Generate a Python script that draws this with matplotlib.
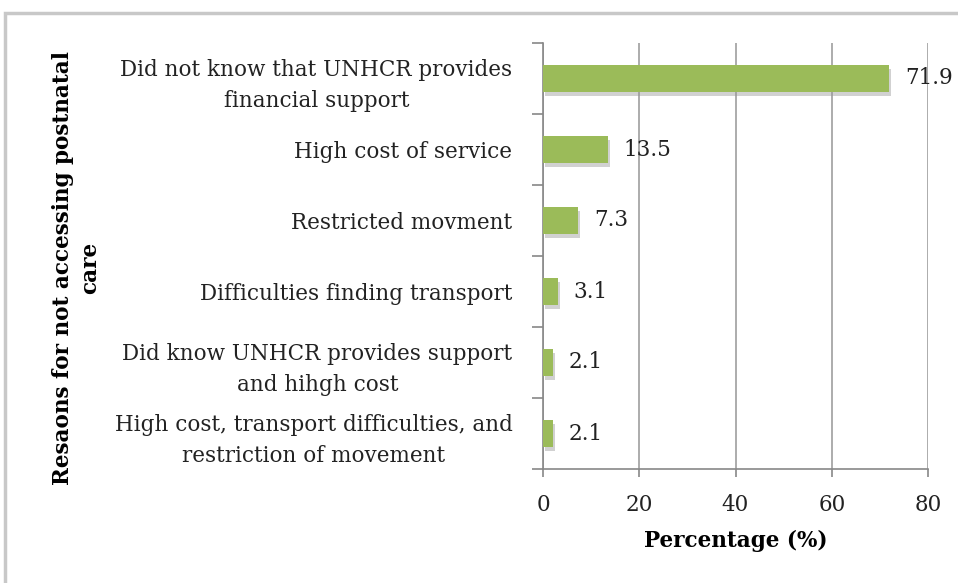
import numpy as np
import matplotlib
matplotlib.use("Agg")
import matplotlib.pyplot as plt
import matplotlib.patheffects as pe
from matplotlib.patches import Rectangle

reasons = [
    "Did not know that UNHCR provides\nfinancial support",
    "High cost of service",
    "Restricted movment",
    "Difficulties finding transport",
    "Did know UNHCR provides support\nand hihgh cost",
    "High cost, transport difficulties, and\nrestriction of movement",
]
percent = [71.9, 13.5, 7.3, 3.1, 2.1, 2.1]
x_ticks = [0, 20, 40, 60, 80]

plt.rcParams['font.family'] = ['DejaVu Serif']

fig = plt.figure(figsize=(9.58, 5.83), dpi=100)
ax = fig.add_axes([543/958, 1-469/583, 385/958, 426/583])

# outer frame (cut off on right and bottom like the screenshot)
fig.patches.append(Rectangle((5/958, -0.1), 1.1, 1-13/583+0.1, transform=fig.transFigure,
                             fill=False, edgecolor='#c8c8c8', linewidth=2.5))

y = np.arange(len(reasons))
bars = ax.barh(y, percent, height=0.38, color='#9bbb59', zorder=3,
               path_effects=[pe.SimplePatchShadow(offset=(1.5, -3), shadow_rgbFace='#9a9a9a', alpha=0.45),
                             pe.Normal()])
for yi, v in zip(y, percent):
    ax.text(v + 3.3, yi, f"{v}", va='center', ha='left', fontsize=15.5, color='#222222', zorder=4)

ax.set_xlim(0, 80)
ax.set_ylim(len(reasons) - 0.5, -0.5)
ax.set_xticks(x_ticks)
ax.set_xticklabels([str(t) for t in x_ticks], fontsize=15.5, color='#222222')
ax.set_yticks(y)
ax.set_yticklabels(reasons, fontsize=15.5, color='#222222', linespacing=1.55)
for lbl in ax.get_yticklabels():
    lbl.set_multialignment('center')
ax.set_yticks(np.arange(-0.5, len(reasons)), minor=True)
ax.tick_params(axis='y', which='major', length=0, pad=22)
ax.tick_params(axis='y', which='minor', length=8, color='#888888', width=1.2)
ax.tick_params(axis='x', length=6, color='#888888', width=1.2, pad=12)

ax.grid(axis='x', color='#a6a6a6', linewidth=1.3, zorder=0)
for s in ['top', 'right']:
    ax.spines[s].set_visible(False)
for s in ['left', 'bottom']:
    ax.spines[s].set_color('#888888')
    ax.spines[s].set_linewidth(1.2)

ax.set_xlabel("Percentage (%)", fontsize=15.5, fontweight='bold', labelpad=10)
fig.text(77/958, 1-268/583, "Resaons for not accessing postnatal\ncare", rotation=90,
         ha='center', va='center', fontsize=15.5, fontweight='bold', linespacing=1.3)

fig.savefig("out.png", dpi=100)
